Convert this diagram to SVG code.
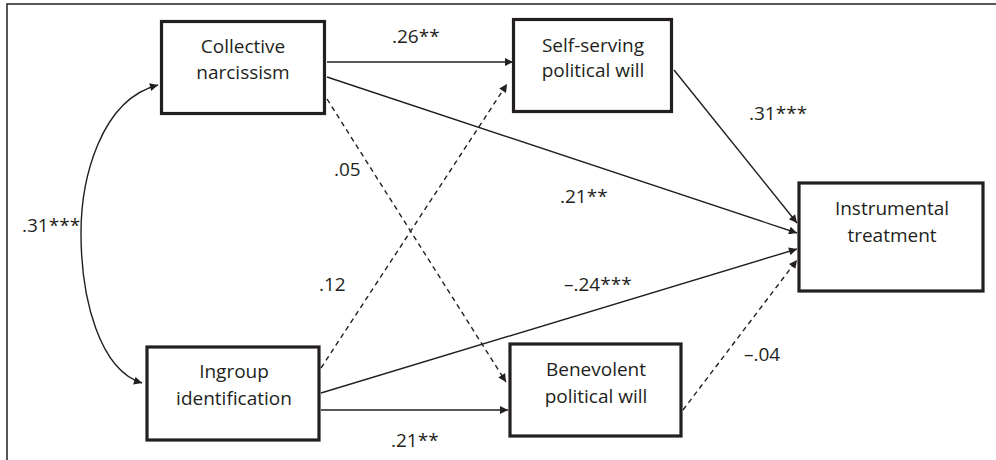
<svg xmlns="http://www.w3.org/2000/svg" width="996" height="460" viewBox="0 0 996 460">
<style>
text{font-family:"Open Sans","Liberation Sans",sans-serif;font-size:19px;fill:#231f20}
.n text{text-anchor:middle}
.box{fill:#fff;stroke:#231f20;stroke-width:3.2}
.c{fill:none;stroke:#231f20;stroke-width:1.4}
.d{stroke-dasharray:5 4}
</style>
<defs>
<marker id="ah" viewBox="0 0 10 10" refX="10" refY="5" markerWidth="10" markerHeight="8" markerUnits="userSpaceOnUse" orient="auto-start-reverse">
<path d="M0,0 L10,5 L0,10 z" fill="#231f20"/>
</marker>
</defs>
<rect width="996" height="460" fill="#fff"/>
<path d="M7,460 V4 H996" fill="none" stroke="#231f20" stroke-width="1.5"/>
<g id="connectors">
<path class="c" d="M158,85 C100,100 81,180 81,233 C81,300 100,370 142,383" marker-start="url(#ah)" marker-end="url(#ah)"/>
<line class="c" x1="327" y1="62" x2="513" y2="62" marker-end="url(#ah)"/>
<line class="c" x1="327" y1="77" x2="797" y2="233" marker-end="url(#ah)"/>
<line class="c d" x1="327" y1="99" x2="506" y2="382" marker-end="url(#ah)"/>
<line class="c d" x1="321" y1="368" x2="507" y2="84" marker-end="url(#ah)"/>
<line class="c" x1="674" y1="70" x2="797" y2="223" marker-end="url(#ah)"/>
<line class="c" x1="321" y1="393" x2="797" y2="249" marker-end="url(#ah)"/>
<line class="c d" x1="683" y1="410" x2="797" y2="260" marker-end="url(#ah)"/>
<line class="c" x1="321" y1="410" x2="508" y2="410" marker-end="url(#ah)"/>
</g>
<g id="labels">
<text x="22" y="232">.31***</text>
<text x="392" y="43">.26**</text>
<text x="334" y="176">.05</text>
<text x="749" y="120">.31***</text>
<text x="560" y="203">.21**</text>
<text x="319" y="291">.12</text>
<text x="564" y="291">–.24***</text>
<text x="744" y="361">–.04</text>
<text x="391" y="447">.21**</text>
</g>
<g id="collective-narcissism" class="n">
<rect class="box" x="161.5" y="21.5" width="163" height="92"/>
<text x="243" y="53">Collective</text>
<text x="243" y="79">narcissism</text>
</g>
<g id="self-serving" class="n">
<rect class="box" x="513.5" y="19.5" width="158" height="92"/>
<text x="593" y="52">Self-serving</text>
<text x="593" y="77">political will</text>
</g>
<g id="instrumental-treatment" class="n">
<rect class="box" x="799" y="183" width="184" height="108"/>
<text x="892" y="215">Instrumental</text>
<text x="892" y="242">treatment</text>
</g>
<g id="ingroup-identification" class="n">
<rect class="box" x="147" y="347" width="172" height="93"/>
<text x="234" y="378">Ingroup</text>
<text x="234" y="405">identification</text>
</g>
<g id="benevolent" class="n">
<rect class="box" x="510" y="344" width="171" height="92"/>
<text x="596" y="376">Benevolent</text>
<text x="596" y="403">political will</text>
</g>
</svg>
